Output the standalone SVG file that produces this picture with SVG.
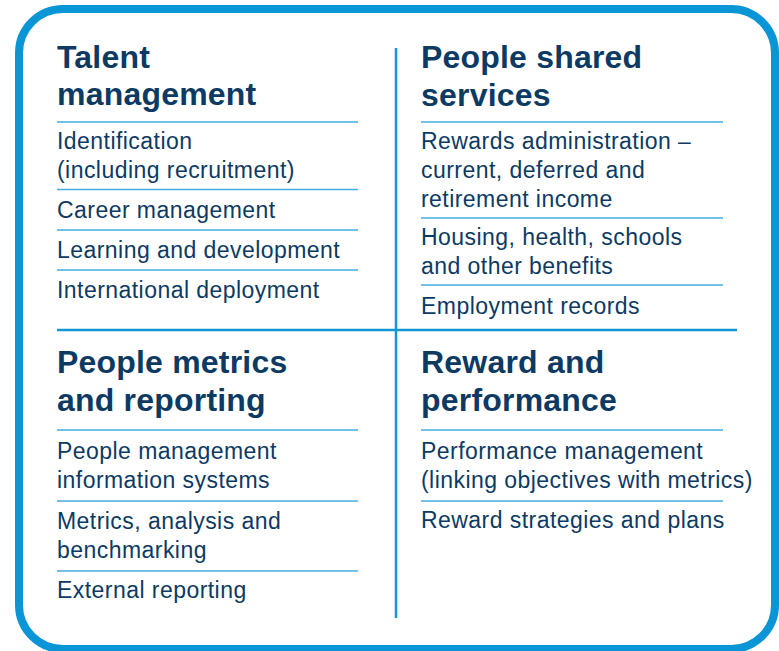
<svg xmlns="http://www.w3.org/2000/svg" width="779" height="651" viewBox="0 0 779 651">
<style>
.h{font-family:"Liberation Sans",Arial,sans-serif;font-weight:bold;font-size:32px;fill:#0d3a63;letter-spacing:0.2px}
.t{font-family:"Liberation Sans",Arial,sans-serif;font-size:23px;fill:#0d3a63;letter-spacing:0.45px}
.sep{stroke:#45ade2;stroke-width:1.4}
.div{stroke:#1296d4;stroke-width:2.5}
</style>
<rect x="19" y="9" width="756" height="640" rx="44" ry="44" fill="#fff" stroke="#0a96d6" stroke-width="8"/>
<g id="dividers">
<line class="div" x1="396" y1="48" x2="396" y2="618"/>
<line class="div" x1="57" y1="330" x2="737" y2="330"/>
</g>
<g id="talent">
<text class="h" x="57" y="68">Talent</text>
<text class="h" x="57" y="105">management</text>
<line class="sep" x1="57" y1="122" x2="358" y2="122"/>
<text class="t" x="57" y="149">Identification</text>
<text class="t" x="57" y="178">(including recruitment)</text>
<line class="sep" x1="57" y1="189.5" x2="358" y2="189.5"/>
<text class="t" x="57" y="218">Career management</text>
<line class="sep" x1="57" y1="230" x2="358" y2="230"/>
<text class="t" x="57" y="258">Learning and development</text>
<line class="sep" x1="57" y1="270" x2="358" y2="270"/>
<text class="t" x="57" y="298">International deployment</text>
</g>
<g id="shared">
<text class="h" x="421" y="68">People shared</text>
<text class="h" x="421" y="106">services</text>
<line class="sep" x1="421" y1="122" x2="723" y2="122"/>
<text class="t" x="421" y="149">Rewards administration –</text>
<text class="t" x="421" y="178">current, deferred and</text>
<text class="t" x="421" y="207">retirement income</text>
<line class="sep" x1="421" y1="218" x2="723" y2="218"/>
<text class="t" x="421" y="245">Housing, health, schools</text>
<text class="t" x="421" y="274">and other benefits</text>
<line class="sep" x1="421" y1="285" x2="723" y2="285"/>
<text class="t" x="421" y="314">Employment records</text>
</g>
<g id="metrics">
<text class="h" x="57" y="373">People metrics</text>
<text class="h" x="57" y="411">and reporting</text>
<line class="sep" x1="57" y1="430" x2="358" y2="430"/>
<text class="t" x="57" y="459">People management</text>
<text class="t" x="57" y="488">information systems</text>
<line class="sep" x1="57" y1="501" x2="358" y2="501"/>
<text class="t" x="57" y="529">Metrics, analysis and</text>
<text class="t" x="57" y="558">benchmarking</text>
<line class="sep" x1="57" y1="571" x2="358" y2="571"/>
<text class="t" x="57" y="598">External reporting</text>
</g>
<g id="reward">
<text class="h" x="421" y="373">Reward and</text>
<text class="h" x="421" y="411">performance</text>
<line class="sep" x1="421" y1="430" x2="723" y2="430"/>
<text class="t" x="421" y="459">Performance management</text>
<text class="t" x="421" y="488">(linking objectives with metrics)</text>
<line class="sep" x1="421" y1="501" x2="723" y2="501"/>
<text class="t" x="421" y="528">Reward strategies and plans</text>
</g>
</svg>
